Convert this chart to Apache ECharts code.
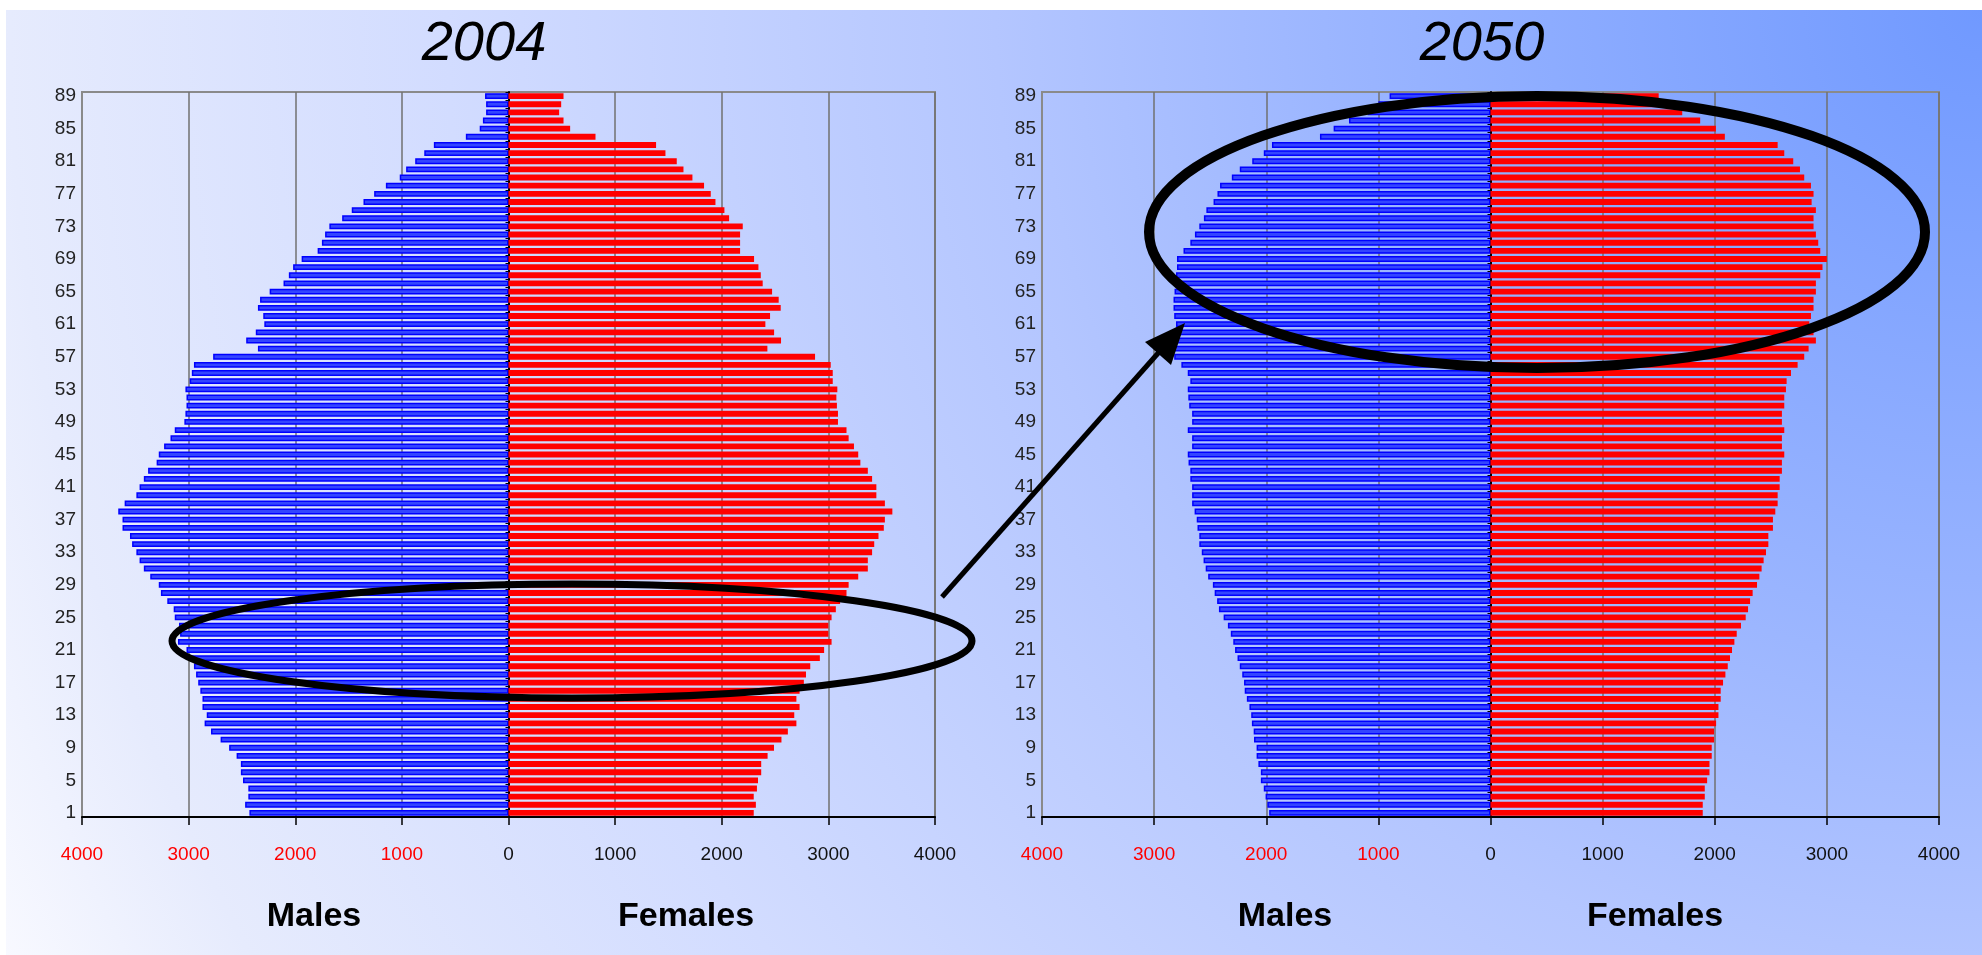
<!DOCTYPE html>
<html>
<head>
<meta charset="utf-8">
<script src="https://cdn.jsdelivr.net/npm/echarts@6/dist/echarts.min.js"></script>
<style>
html,body{margin:0;padding:0;background:#fff;}
#chart{width:1982px;height:955px;}
</style>
</head>
<body>
<div id="chart"></div>
<script>
// ---- DATA (ages 1..89, bottom to top) ----
var ages = [];
for (var a = 1; a <= 89; a++) ages.push(String(a));

var titles = ['2004', '2050'];

var males2004 = [2430,2470,2440,2440,2490,2510,2510,2550,2620,2700,
  2790,2850,2830,2870,2870,2890,2910,2930,2950,2990,
  3020,3100,3080,3090,3130,3140,3200,3260,3280,3360,
  3420,3460,3490,3530,3550,3620,3620,3660,3600,3490,
  3460,3420,3380,3300,3280,3230,3170,3130,3040,3030,
  3020,3020,3030,2990,2970,2950,2770,2350,2460,2370,
  2290,2300,2350,2330,2240,2110,2060,2020,1940,1790,
  1750,1720,1680,1560,1470,1360,1260,1150,1020,960,
  875,790,700,400,270,240,210,210,220];

var females2004 = [2300,2320,2300,2330,2340,2370,2370,2430,2490,2560,
  2620,2700,2680,2730,2700,2730,2770,2790,2830,2920,
  2960,3030,3000,3000,3030,3070,3110,3170,3190,3280,
  3370,3370,3410,3430,3470,3520,3530,3600,3530,3450,
  3450,3410,3370,3300,3280,3240,3190,3170,3090,3090,
  3080,3075,3084,3041,3041,3022,2875,2428,2556,2491,
  2409,2453,2553,2534,2472,2384,2366,2344,2303,2172,
  2172,2172,2197,2069,2025,1941,1897,1834,1725,1641,
  1578,1472,1384,816,578,516,475,494,516];

var males2050 = [1974,1990,2006,2022,2048,2048,2070,2086,2086,2109,
  2112,2128,2134,2150,2173,2192,2198,2214,2236,2256,
  2278,2294,2316,2342,2380,2422,2438,2460,2476,2518,
  2540,2559,2575,2597,2597,2613,2620,2639,2661,2661,
  2661,2677,2677,2693,2700,2661,2661,2700,2661,2661,
  2687,2695,2700,2677,2700,2757,2821,2859,2869,2837,
  2805,2821,2827,2827,2818,2805,2805,2796,2796,2738,
  2677,2636,2597,2556,2534,2470,2435,2412,2307,2236,
  2125,2022,1949,1521,1399,1262,1096,1000,900];

var females2050 = [1893,1893,1911,1911,1932,1953,1953,1973,1973,1994,
  1994,2012,2033,2033,2053,2053,2074,2095,2116,2136,
  2154,2175,2196,2234,2276,2297,2315,2338,2377,2398,
  2418,2436,2457,2478,2478,2519,2519,2540,2561,2561,
  2579,2579,2599,2599,2620,2599,2599,2620,2599,2599,
  2620,2620,2635,2641,2680,2739,2798,2837,2902,2881,
  2843,2858,2881,2881,2902,2902,2941,2961,3000,2941,
  2923,2902,2881,2881,2902,2864,2881,2858,2798,2760,
  2700,2620,2561,2090,2010,1870,1710,1560,1500];

var xTicks = [-4000, -3000, -2000, -1000, 0, 1000, 2000, 3000, 4000];
var sideLabels = ['Males', 'Females'];

// ---- LAYOUT ----
var W = 1982, H = 955;
var grids = [
  {left: 82, right: W - 935, top: 92, bottom: H - 817},
  {left: 1042, right: W - 1939, top: 92, bottom: H - 817}
];
var FONT = '"Liberation Sans", Arial, sans-serif';

var chart = echarts.init(document.getElementById('chart'), null, {renderer: 'canvas'});

function neg(arr) { return arr.map(function (v) { return -v; }); }

var xAxes = [], yAxes = [], series = [];
var maleData = [males2004, males2050];
var femaleData = [females2004, females2050];

for (var g = 0; g < 2; g++) {
  xAxes.push({
    type: 'value', gridIndex: g,
    min: xTicks[0], max: xTicks[xTicks.length - 1], interval: 1000,
    axisLine: {show: true, onZero: false, lineStyle: {color: '#000', width: 2}},
    axisTick: {show: true, length: 8, lineStyle: {color: '#000', width: 1.5}},
    axisLabel: {
      margin: 28, fontSize: 19, fontFamily: FONT,
      formatter: function (v) { return String(Math.abs(v)); },
      color: function (v) { return Number(v) < 0 ? '#ff0000' : '#111'; }
    },
    splitLine: {show: true, lineStyle: {color: '#707070', width: 1.5}}
  });
  // axis through zero (black with small ticks)
  yAxes.push({
    type: 'category', gridIndex: g, data: ages, position: 'left',
    axisLine: {show: true, onZero: true, lineStyle: {color: '#000', width: 2}},
    axisTick: {show: true, length: 3, interval: 0, lineStyle: {color: '#000', width: 1}},
    axisLabel: {show: false},
    splitLine: {show: false}
  });
  // label axis at left edge
  yAxes.push({
    type: 'category', gridIndex: g, data: ages, position: 'left',
    axisLine: {show: true, onZero: false, lineStyle: {color: '#8a8a8a', width: 2}},
    axisTick: {show: false},
    axisLabel: {interval: 3, fontSize: 19, fontFamily: FONT, color: '#222', margin: 6},
    splitLine: {show: false}
  });
  series.push({
    type: 'bar', name: 'Males ' + titles[g], xAxisIndex: g, yAxisIndex: g * 2,
    stack: 'pyr' + g, data: neg(maleData[g]),
    barCategoryGap: '14%',
    itemStyle: {color: '#3345ff', borderColor: '#0000ff', borderWidth: 1.5},
    silent: true, animation: false
  });
  series.push({
    type: 'bar', name: 'Females ' + titles[g], xAxisIndex: g, yAxisIndex: g * 2,
    stack: 'pyr' + g, data: femaleData[g],
    barCategoryGap: '28%',
    itemStyle: {color: '#ff0000'},
    silent: true, animation: false
  });
}

var bg = new echarts.graphic.RadialGradient(1, 0, 2.32, [
  {offset: 0, color: '#7099ff'},
  {offset: 0.3, color: '#9cb6ff'},
  {offset: 0.45, color: '#b4c6ff'},
  {offset: 0.7, color: '#d2dcff'},
  {offset: 0.9, color: '#e6ebfd'},
  {offset: 1, color: '#f8f9ff'}
]);

var titleCenters = [484, 1482];
var sideCenters = [[314, 686], [1285, 1655]];

var graphics = [
  {type: 'rect', z: -10, silent: true, shape: {x: 6, y: 10, width: W - 6, height: H - 10}, style: {fill: bg}}
];
for (var t = 0; t < 2; t++) {
  graphics.push({
    type: 'text', z: 10, x: titleCenters[t], y: 44, silent: true,
    style: {text: titles[t], font: 'italic 56px ' + FONT, fill: '#000',
      textAlign: 'center', textVerticalAlign: 'middle',
      shadowColor: 'rgba(0,0,0,0.35)', shadowOffsetX: 2, shadowOffsetY: 2, shadowBlur: 2}
  });
  for (var s = 0; s < 2; s++) {
    graphics.push({
      type: 'text', z: 10, x: sideCenters[t][s], y: 917, silent: true,
      style: {text: sideLabels[s], font: 'bold 34px ' + FONT, fill: '#000',
        textAlign: 'center', textVerticalAlign: 'middle'}
    });
  }
}
// annotations: ellipses and arrow
graphics.push({type: 'ellipse', z: 100, silent: true, shape: {cx: 572, cy: 641, rx: 400, ry: 57},
  style: {fill: 'none', stroke: '#000', lineWidth: 7}});
graphics.push({type: 'ellipse', z: 100, silent: true, shape: {cx: 1537, cy: 232, rx: 388, ry: 136},
  style: {fill: 'none', stroke: '#000', lineWidth: 10}});
graphics.push({type: 'line', z: 100, silent: true, shape: {x1: 942, y1: 597, x2: 1160, y2: 351},
  style: {stroke: '#000', lineWidth: 5}});
graphics.push({type: 'polygon', z: 100, silent: true, shape: {points: [[1185, 323], [1171, 365], [1145, 342]]},
  style: {fill: '#000'}});

chart.setOption({
  backgroundColor: '#ffffff',
  animation: false,
  grid: grids.map(function (gr) {
    return Object.assign({show: true, borderColor: '#8a8a8a', borderWidth: 2, backgroundColor: 'transparent'}, gr);
  }),
  xAxis: xAxes,
  yAxis: yAxes,
  series: series,
  graphic: graphics
});
</script>
</body>
</html>
